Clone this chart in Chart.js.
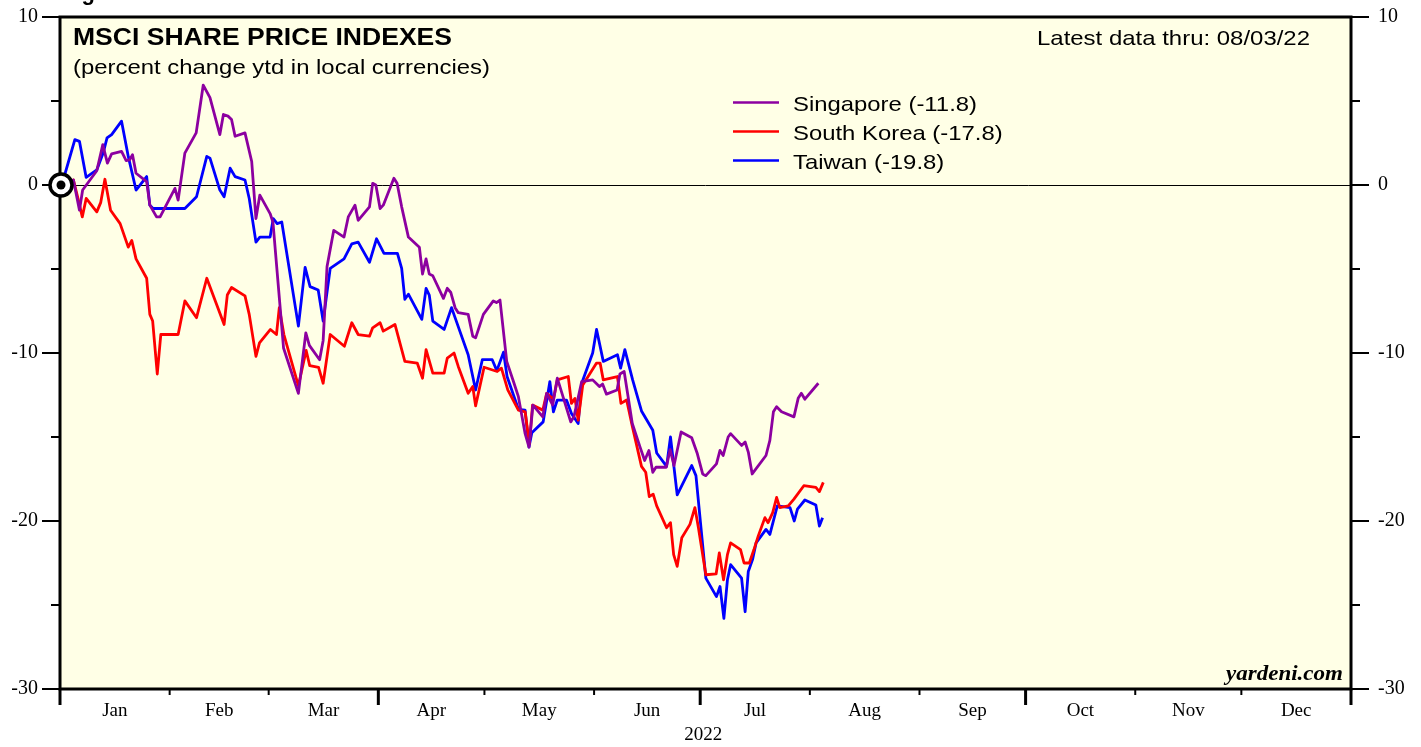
<!DOCTYPE html>
<html>
<head>
<meta charset="utf-8">
<script src="https://cdn.jsdelivr.net/npm/chart.js@4"></script>
<style>
  html, body { margin: 0; padding: 0; background: #fff; }
  canvas { display: block; }
</style>
</head>
<body>
<canvas id="mycanvas" width="1421" height="747"></canvas>
<script>
// months & ticks (day of year 2022, Jan 1 = 0)
var monthLabels = ["Jan","Feb","Mar","Apr","May","Jun","Jul","Aug","Sep","Oct","Nov","Dec"];
var monthStarts = [0,31,59,90,120,151,181,212,243,273,304,334,365];
var yTicks = [10, 0, -10, -20, -30];

// Singapore (purple)
var sgDays = [0.5,3.8,5.5,6.4,10.4,12.1,13.4,14.6,17.4,18.7,19.7,20.5,21.5,24.5,25.4,27.3,28.3,32.5,33.4,35.3,38.5,40.5,42.4,45.2,46.2,47.5,48.5,49.5,52.3,54.2,55.4,56.5,59.4,60.2,63.2,67.4,69.5,70.5,73.4,74.4,75.5,77.4,80.3,81.5,83.4,84.3,87.5,88.4,89.3,90.5,91.4,94.4,95.3,96.6,98.5,101.6,102.5,103.5,104.4,105.4,108.4,109.5,110.5,111.7,112.6,115.4,116.7,117.5,119.7,122.5,123.4,124.4,126.3,128.2,129.6,131.5,132.6,133.7,136.5,137.6,139.3,140.6,144.4,145.3,147.5,150.6,152.5,153.4,154.5,157.5,158.3,159.5,161.8,164.0,165.3,166.5,167.6,168.5,171.4,172.5,173.6,175.6,178.6,180.2,181.7,182.6,185.6,186.6,187.5,188.9,189.6,192.7,193.7,194.6,195.7,199.6,200.7,201.7,202.6,204,207.5,208.7,209.6,210.6,214.4];
var sgVals = [0,0.3,-1.5,-0.3,0.85,2.4,1.3,1.85,2.0,1.45,1.5,1.8,0.7,0.2,-1.2,-1.9,-1.9,-0.2,-0.9,1.9,3.1,5.95,5.2,3.0,4.2,4.1,3.9,2.9,3.1,1.4,-2.0,-0.6,-1.7,-2.2,-9.7,-12.4,-8.8,-9.55,-10.4,-9.25,-4.85,-2.7,-3.1,-1.9,-1.2,-2.1,-1.3,0.1,0.0,-1.4,-1.2,0.4,0.1,-1.3,-3.1,-3.7,-5.3,-4.4,-5.3,-5.4,-6.75,-6.15,-6.4,-7.3,-7.6,-7.7,-9.0,-9.1,-7.7,-6.9,-7.0,-6.85,-10.5,-11.7,-12.6,-14.8,-15.6,-13.1,-13.8,-12.4,-13.1,-11.5,-14.1,-13.8,-11.7,-11.6,-12.0,-11.85,-12.45,-12.2,-11.25,-11.1,-14.2,-15.6,-16.4,-15.8,-17.1,-16.8,-16.8,-15.75,-16.7,-14.7,-15.05,-16.0,-17.2,-17.3,-16.6,-15.8,-16.1,-15.0,-14.8,-15.5,-15.3,-15.9,-17.2,-16.1,-15.2,-13.5,-13.2,-13.5,-13.8,-12.7,-12.4,-12.75,-11.8];

// South Korea (red)
var krDays = [0.5,3.8,5.2,6.3,7.4,10.4,11.5,12.7,14.3,17,19.3,20.3,21.5,24.5,25.4,26.2,27.5,28.5,33.4,35.3,38.6,41.5,46.4,47.3,48.5,52.3,53.5,55.4,56.4,59.5,61.2,62,63.3,67.4,69.6,70.6,73.1,74.4,76.4,80.4,82.5,84.3,87.5,88.4,90.5,91.4,94.7,97.5,101,102.5,103.5,105.4,108.6,109.5,111.4,112.6,115.4,116.7,117.5,119.9,123.6,124.8,126.6,129.6,131.5,132.7,133.6,136.5,137.6,139.5,140.6,143.7,144.6,145.6,146.5,147.8,151.7,152.7,153.6,157.6,158.6,160.2,161.8,164.4,165.6,166.6,167.7,168.7,171.5,172.6,173.5,174.5,175.8,178.1,179.5,180.5,182.6,185.5,186.4,187.6,188.7,189.6,192.4,193.4,194.9,196.2,197.4,199.3,200.2,201.5,202.6,203.5,205.9,207.5,210.3,213.7,214.7,215.8];
var krVals = [0,0.3,-0.9,-1.9,-0.8,-1.6,-1.05,0.34,-1.5,-2.3,-3.7,-3.3,-4.4,-5.55,-7.7,-8.1,-11.25,-8.9,-8.9,-6.9,-7.9,-5.55,-8.3,-6.55,-6.1,-6.6,-7.7,-10.2,-9.4,-8.6,-8.9,-7.3,-8.9,-11.95,-9.85,-10.75,-10.85,-11.8,-8.9,-9.6,-8.2,-8.9,-9.0,-8.5,-8.2,-8.7,-8.3,-10.5,-10.6,-11.5,-9.8,-11.2,-11.2,-10.3,-10.0,-10.8,-12.4,-12.0,-13.15,-10.85,-11.1,-10.9,-12.2,-13.4,-13.5,-15.4,-13.1,-13.4,-12.4,-12.75,-11.6,-11.4,-13.0,-12.7,-14.0,-11.9,-10.6,-10.6,-11.6,-11.4,-13.0,-12.8,-14.35,-16.75,-17.1,-18.55,-18.4,-19.1,-20.4,-20.1,-22.0,-22.7,-21.0,-20.2,-19.2,-20.4,-23.2,-23.15,-21.9,-23.5,-22.0,-21.3,-21.7,-22.5,-22.5,-21.7,-20.9,-19.8,-20.1,-19.5,-18.6,-19.2,-19.1,-18.7,-17.9,-18.0,-18.25,-17.7];

// Taiwan (blue)
var twDays = [0.5,4.2,5.5,7.4,10.4,12.2,13.3,14.6,17.4,19.3,21.5,24.5,25.4,26.3,35.3,38.6,41.5,42.4,45.2,46.4,48.1,49.5,52.3,53.5,55.4,56.5,59.4,60.3,61.4,62.7,67.4,69.3,70.7,73,74.4,76.4,80.3,82.5,84.3,87.5,89.5,91.6,95.4,96.6,97.5,98.5,102.3,103.5,104.4,105.4,108.6,110.7,115.4,117.5,119.4,122.2,123.5,125.4,126.4,129.6,131.5,132.6,133.4,136.6,138.5,139.5,140.6,143.2,144.6,146.5,147.5,150.6,151.7,153.6,157.6,158.5,159.7,161.9,164.4,167.6,168.7,171.5,172.6,174.5,178.6,179.8,182.6,185.6,186.6,187.7,188.7,189.6,192.7,193.7,194.6,195.8,196.8,199.6,200.7,202.8,206.4,207.6,208.5,210.6,213.7,214.7,215.6];
var twVals = [0,2.7,2.6,0.45,0.9,1.9,2.8,3.0,3.8,1.7,-0.3,0.5,-1.2,-1.4,-1.4,-0.7,1.7,1.6,-0.3,-0.7,1.0,0.5,0.3,-0.8,-3.4,-3.1,-3.1,-2.0,-2.3,-2.2,-8.4,-4.9,-6.05,-6.25,-8.1,-4.96,-4.4,-3.5,-3.4,-4.6,-3.2,-4.07,-4.07,-4.96,-6.8,-6.5,-8.0,-6.15,-6.55,-8.1,-8.6,-7.3,-10.1,-12.2,-10.4,-10.4,-11.05,-9.95,-11.4,-13.35,-13.4,-15.6,-14.75,-14.1,-11.7,-13.5,-12.8,-12.8,-13.6,-14.2,-11.8,-10.0,-8.6,-10.5,-10.1,-10.9,-9.8,-11.6,-13.45,-14.6,-15.95,-16.75,-15.0,-18.45,-16.7,-17.3,-23.4,-24.5,-23.9,-25.8,-23.5,-22.6,-23.4,-25.4,-23.0,-22.3,-21.3,-20.5,-20.8,-19.1,-19.2,-20.0,-19.3,-18.75,-19.05,-20.3,-19.8];

var seriesNames = ["Singapore (-11.8)", "South Korea (-17.8)", "Taiwan (-19.8)"];
var seriesColors = ["#8c00a0", "#ff0000", "#0000ff"];

function pts(days, vals) {
	var out = [];
	for (var i in days) out.push({x: days[i], y: vals[i]});
	return out;
}

var SANS = "'Liberation Sans', Arial, sans-serif";
var SERIF = "'Liberation Serif', 'Times New Roman', serif";

// draw text squeezed/stretched to a given width
function fitText(ctx, str, x, y, w, align) {
	var m = ctx.measureText(str).width;
	ctx.save();
	ctx.textAlign = 'left';
	var left = align === 'right' ? x - w : x;
	ctx.translate(left, y);
	ctx.scale(w / m, 1);
	ctx.fillText(str, 0, 0);
	ctx.restore();
}

var frame = {
	id: 'frame',
	beforeDraw: function(chart) {
		var ctx = chart.ctx, a = chart.chartArea;
		ctx.save();
		ctx.fillStyle = '#ffffe6';
		ctx.fillRect(a.left, a.top, a.right - a.left, a.bottom - a.top);
		ctx.restore();
	},
	beforeDatasetsDraw: function(chart) {
		var ctx = chart.ctx, a = chart.chartArea, y = chart.scales.y;
		var y0 = Math.round(y.getPixelForValue(0)) + 0.5;
		ctx.save();
		ctx.strokeStyle = '#000';
		ctx.lineWidth = 1;
		ctx.beginPath();
		ctx.moveTo(a.left, y0);
		ctx.lineTo(a.right, y0);
		ctx.stroke();
		ctx.restore();
	},
	afterDatasetsDraw: function(chart) {
		var ctx = chart.ctx, a = chart.chartArea;
		var xs = chart.scales.x, ys = chart.scales.y;
		ctx.save();

		// cut-off figure caption at very top (only descenders show)
		ctx.fillStyle = '#000';
		ctx.font = 'bold 22px ' + SANS;
		ctx.textBaseline = 'alphabetic';
		ctx.fillText('Figure 5.', 62, 0);

		// frame
		ctx.strokeStyle = '#000';
		ctx.lineWidth = 3;
		ctx.strokeRect(a.left, a.top, a.right - a.left, a.bottom - a.top);

		// y ticks both sides
		ctx.lineWidth = 2;
		for (var v = -30; v <= 10; v += 5) {
			var py = ys.getPixelForValue(v);
			var major = (v % 10 === 0);
			ctx.beginPath();
			ctx.moveTo(a.left - (major ? 18 : 9), py);
			ctx.lineTo(a.left, py);
			ctx.moveTo(a.right, py);
			ctx.lineTo(a.right + (major ? 18 : 9), py);
			ctx.stroke();
		}
		ctx.font = '20px ' + SERIF;
		ctx.textBaseline = 'middle';
		yTicks.forEach(function(t) {
			var py = ys.getPixelForValue(t);
			ctx.textAlign = 'right';
			ctx.fillText(String(t), 38, py);
			ctx.textAlign = 'left';
			ctx.fillText(String(t), a.right + 27, py);
		});

		// x ticks: quarters long, months short
		monthStarts.forEach(function(d, i) {
			var px = xs.getPixelForValue(d);
			var major = (i % 3 === 0);
			ctx.lineWidth = major ? 3 : 2;
			ctx.beginPath();
			ctx.moveTo(px, a.bottom);
			ctx.lineTo(px, a.bottom + (major ? 16 : 6));
			ctx.stroke();
		});
		ctx.font = '19px ' + SERIF;
		ctx.textAlign = 'center';
		ctx.textBaseline = 'alphabetic';
		monthLabels.forEach(function(m, i) {
			var mid = (monthStarts[i] + monthStarts[i + 1]) / 2;
			ctx.fillText(m, xs.getPixelForValue(mid), 716);
		});
		ctx.fillText('2022', xs.getPixelForValue(181) + 3, 740);

		// titles
		ctx.textAlign = 'left';
		ctx.font = 'bold 24px ' + SANS;
		fitText(ctx, 'MSCI SHARE PRICE INDEXES', 73, 45, 379);
		ctx.font = '21px ' + SANS;
		fitText(ctx, '(percent change ytd in local currencies)', 73, 74, 417);
		fitText(ctx, 'Latest data thru: 08/03/22', 1310, 45, 273, 'right');

		// legend
		var ds = chart.data.datasets;
		ctx.font = '21px ' + SANS;
		var k = 184 / ctx.measureText(ds[0].label).width;
		var rows = [110.5, 139.5, 168.5];
		ds.forEach(function(d, i) {
			ctx.strokeStyle = d.borderColor;
			ctx.lineWidth = 2.5;
			ctx.beginPath();
			ctx.moveTo(733, rows[i] - 8);
			ctx.lineTo(779, rows[i] - 8);
			ctx.stroke();
			ctx.fillStyle = '#000';
			fitText(ctx, d.label, 793, rows[i], ctx.measureText(d.label).width * k);
		});

		// source
		ctx.font = 'italic bold 22px ' + SERIF;
		fitText(ctx, 'yardeni.com', 1343, 680, 117, 'right');

		// start marker at (Jan 1, 0)
		var cx = xs.getPixelForValue(0) + 1, cy = ys.getPixelForValue(0);
		ctx.fillStyle = '#fff';
		ctx.strokeStyle = '#000';
		ctx.lineWidth = 3.5;
		ctx.beginPath();
		ctx.arc(cx, cy, 11, 0, Math.PI * 2);
		ctx.fill();
		ctx.stroke();
		ctx.fillStyle = '#000';
		ctx.beginPath();
		ctx.arc(cx, cy, 4.5, 0, Math.PI * 2);
		ctx.fill();

		ctx.restore();
	}
};

var chartdata = {
	datasets: [
		{ label: seriesNames[0], data: pts(sgDays, sgVals), borderColor: seriesColors[0] },
		{ label: seriesNames[1], data: pts(krDays, krVals), borderColor: seriesColors[1] },
		{ label: seriesNames[2], data: pts(twDays, twVals), borderColor: seriesColors[2] }
	]
};
chartdata.datasets.forEach(function(d) {
	d.fill = false;
	d.tension = 0;
	d.borderWidth = 2.8;
	d.pointRadius = 0;
	d.borderJoinStyle = 'round';
});

var ctx = document.getElementById('mycanvas');
var LineGraph = new Chart(ctx, {
	type: 'line',
	data: chartdata,
	options: {
		responsive: false,
		animation: false,
		devicePixelRatio: 1,
		layout: { padding: { left: 60, right: 70, top: 17, bottom: 58 } },
		plugins: { legend: { display: false }, tooltip: { enabled: false } },
		scales: {
			x: { type: 'linear', min: 0, max: 365, display: false },
			y: { min: -30, max: 10, display: false }
		}
	},
	plugins: [frame]
});
</script>
</body>
</html>
